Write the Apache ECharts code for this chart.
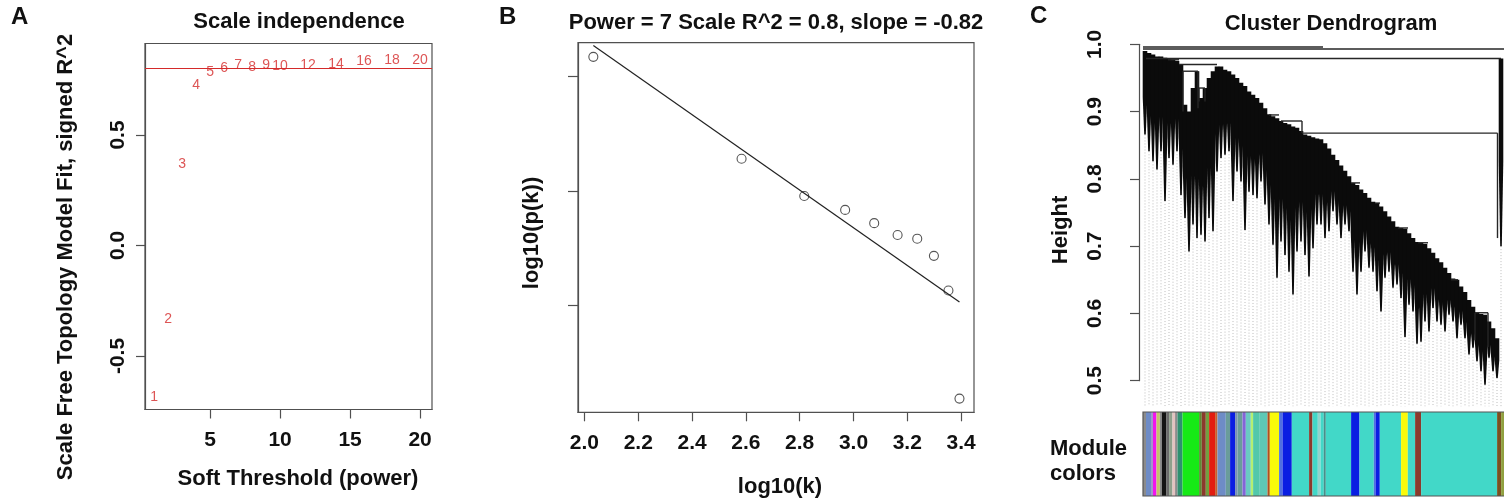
<!DOCTYPE html>
<html><head><meta charset="utf-8">
<script src="https://cdn.jsdelivr.net/npm/echarts@6/dist/echarts.min.js"></script>
<style>html,body{margin:0;padding:0;background:#fff}#c{width:1504px;height:502px}</style>
</head><body><div id="c"></div>
<script>
// ---------- Panel A: scale independence ----------
const powers = [1,2,3,4,5,6,7,8,9,10,12,14,16,18,20];
const signedR2 = [-0.688,-0.335,0.367,0.724,0.784,0.804,0.814,0.807,0.817,0.811,0.817,0.822,0.834,0.837,0.837];
const r2Cutoff = 0.8;
const aXTicks = [5,10,15,20];
const aYTicks = [-0.5,0,0.5];

// ---------- Panel B: scale-free fit ----------
const logK  = [2.033,2.584,2.817,2.969,3.077,3.164,3.237,3.299,3.353,3.394];
const logPk = [-0.913,-1.359,-1.522,-1.583,-1.641,-1.693,-1.709,-1.784,-1.936,-2.409];
const bXTicks = [2.0,2.2,2.4,2.6,2.8,3.0,3.2,3.4];
const bYTicks = [-2.0,-1.5,-1.0];

// ---------- Panel C: cluster dendrogram ----------
// per leaf-group (left to right): height where the branch mass starts, and leaf (lowest) height
const branchTop = [0.990,0.987,0.985,0.982,0.982,0.980,0.979,0.977,0.975,0.970,
  0.910,0.900,0.935,0.960,0.920,0.935,0.950,0.960,0.967,0.967,
  0.962,0.960,0.955,0.950,0.943,0.938,0.930,0.925,0.920,0.913,
  0.905,0.896,0.893,0.890,0.886,0.883,0.881,0.878,0.876,0.871,
  0.866,0.864,0.862,0.860,0.859,0.853,0.845,0.836,0.828,0.820,
  0.812,0.804,0.794,0.791,0.784,0.779,0.772,0.766,0.764,0.759,
  0.752,0.744,0.737,0.729,0.727,0.726,0.719,0.712,0.706,0.705,
  0.703,0.697,0.690,0.682,0.676,0.668,0.660,0.652,0.650,0.640,
  0.632,0.620,0.610,0.601,0.599,0.598,0.588,0.578,0.563,0.979];
const leafHeight = [0.866,0.841,0.826,0.814,0.841,0.767,0.831,0.821,0.841,0.776,
  0.742,0.692,0.732,0.712,0.717,0.707,0.742,0.722,0.811,0.831,
  0.836,0.841,0.767,0.811,0.796,0.724,0.781,0.776,0.771,0.796,
  0.762,0.732,0.702,0.653,0.707,0.687,0.662,0.628,0.692,0.707,
  0.687,0.655,0.697,0.732,0.732,0.712,0.722,0.752,0.732,0.712,
  0.732,0.722,0.662,0.628,0.662,0.692,0.668,0.662,0.633,0.603,
  0.653,0.662,0.638,0.643,0.623,0.565,0.613,0.603,0.555,0.558,
  0.588,0.573,0.608,0.588,0.583,0.573,0.598,0.588,0.563,0.583,
  0.563,0.539,0.549,0.529,0.514,0.494,0.534,0.514,0.504,0.700];
const leafGroupSize = 4;   // leaf units per group
// merge lines: [leaf1, height1, leaf2, height2]
const mergeLines = [
  [0,0.993,366,0.993],[0,0.996,180,0.996],[3,0.979,358,0.979],
  [159,0.868,354.5,0.868],[354.5,0.868,354.5,0.712],
  [138,0.886,159,0.886],[159,0.886,159,0.868],[126,0.895,136,0.895],
  [25,0.977,36,0.977],[36,0.970,74,0.970],[40,0.960,55,0.960],
  [40,0.960,40,0.900],[55,0.960,55,0.905],[56,0.935,62,0.935],
  [56,0.935,56,0.915],[62,0.935,62,0.915],
  [208,0.794,217,0.794],[232,0.764,237,0.764],[255,0.727,265,0.727],
  [275,0.705,285,0.705],[308,0.650,315,0.650],[332,0.601,345,0.601],
  [332,0.601,332,0.560],[345,0.601,345,0.550]
];
const guideFloor = 0.462;

// module colour bar (left to right)
const moduleColors = ['grey','steelblue','lavender','magenta','tan','grey','black','darkgrey','darkseagreen','pink',
  'grey','seagreen','green','darkolivegreen','brown','olivedrab','red','darkorange','steelblue','cadetblue',
  'blue','lightsteelblue','cadetblue','mediumpurple','mediumturquoise','greenyellow','mediumaquamarine','aquamarine','sienna','yellow',
  'royalblue','blue','turquoise','brown','turquoise','paleturquoise','turquoise','darkslategray','turquoise','blue',
  'turquoise','royalblue','blue','turquoise','yellow','turquoise','brown','turquoise','saddlebrown','yellowgreen'];
const moduleSizes = [3,5,2,3.5,3.3,2,4.7,2.6,3.4,2.6,
  2.4,5,16.6,2.7,4,3.3,6,2.4,8.3,4.3,
  5,2.4,5,3.3,5,2.3,6.7,7.7,2.3,9.3,
  3.4,9.3,17.3,3.4,5.3,2.7,3.3,2,25.3,8.4,
  14.3,1.7,4.3,21.3,6.7,7.3,6,76,4,6];

// ---------- styles ----------
const palette = {grey:'#8c8c8c',steelblue:'#6e8cc6',lavender:'#a496cc',magenta:'#f214ee',tan:'#c2c46c',
  black:'#141414',darkgrey:'#6c6c6c',darkseagreen:'#8fa08c',pink:'#e4c2c0',seagreen:'#2e9070',green:'#16ea16',
  darkolivegreen:'#5d8a34',brown:'#8b3a2c',olivedrab:'#72a040',red:'#e21c10',darkorange:'#c8602e',cadetblue:'#6a9c9a',
  blue:'#0a1ee2',lightsteelblue:'#7890b4',mediumpurple:'#8464d8',mediumturquoise:'#6acac2',greenyellow:'#b4f070',
  mediumaquamarine:'#52c8aa',aquamarine:'#5ec8b6',sienna:'#b05020',yellow:'#fafa0a',royalblue:'#5070e0',
  turquoise:'#42d8c8',paleturquoise:'#94d4cc',darkslategray:'#4a8e8a',saddlebrown:'#7a5020',yellowgreen:'#90a040'};
const FF = '"Liberation Sans", Arial, sans-serif';
const INK = '#111';
const AX = '#505050';
const RED = '#d42a2a';
const tickLbl = {fontSize:21, fontWeight:'bold', fontFamily:FF, color:INK};
const axLine = {show:true, onZero:false, lineStyle:{color:AX, width:1.2}};

function lsFit(xs, ys){
  const n = xs.length;
  const mx = xs.reduce((a,b)=>a+b,0)/n, my = ys.reduce((a,b)=>a+b,0)/n;
  let sxy=0, sxx=0;
  for (let i=0;i<n;i++){ sxy += (xs[i]-mx)*(ys[i]-my); sxx += (xs[i]-mx)*(xs[i]-mx); }
  const slope = sxy/sxx;
  return {slope, intercept: my - slope*mx};
}
const fit = lsFit(logK, logPk);
const xLo = Math.min(...logK), xHi = Math.max(...logK);
const fitLine = [[xLo, fit.intercept + fit.slope*xLo],[xHi, fit.intercept + fit.slope*xHi]];

const groups = branchTop.map((t,i)=>[leafGroupSize*i + leafGroupSize/2, t, leafHeight[i]]);
let acc = 0;
const moduleData = moduleSizes.map((s,i)=>{ const d=[acc, acc+s, i]; acc += s; return d; });
const totalLeaves = acc;

function label(text, x, y, rotated){
  return {type:'text', x:x, y:y, rotation: rotated ? Math.PI/2 : 0,
    style:{text:text, font:'bold 22px '+FF, fill:INK, align:'center', verticalAlign:'middle', textAlign:'center', textVerticalAlign:'middle'}};
}

const chart = echarts.init(document.getElementById('c'), null, {renderer:'canvas'});
const option = {
  animation:false,
  backgroundColor:'#fff',
  title:[
    {text:'Scale independence', left:294, top:6, textAlign:'center', textStyle:{fontSize:22,fontWeight:'bold',fontFamily:FF,color:INK}},
    {text:'Power = 7 Scale R^2 = 0.8, slope = -0.82', left:771, top:7, textAlign:'center', textStyle:{fontSize:22,fontWeight:'bold',fontFamily:FF,color:INK}},
    {text:'Cluster Dendrogram', left:1326, top:8, textAlign:'center', textStyle:{fontSize:22,fontWeight:'bold',fontFamily:FF,color:INK}}
  ],
  grid:[
    {left:145, top:43.5, width:287, height:366, show:true, borderColor:AX, borderWidth:1.2, backgroundColor:'transparent', containLabel:false, outerBoundsMode:'none'},
    {left:578, top:42.7, width:396, height:369.6, show:true, borderColor:AX, borderWidth:1.2, backgroundColor:'transparent', containLabel:false, outerBoundsMode:'none'},
    {left:1143, top:44.3, width:361, height:336.4, show:false, containLabel:false, outerBoundsMode:'none'},
    {left:1143, top:412, width:361, height:84, show:false, containLabel:false, outerBoundsMode:'none'}
  ],
  xAxis:[
    {gridIndex:0, type:'value', min:0.35, max:20.85, splitLine:{show:false}, axisLine:axLine,
     axisTick:{show:true, customValues:aXTicks, length:9, lineStyle:{color:AX,width:1.2}},
     axisLabel:Object.assign({customValues:aXTicks, margin:20}, tickLbl)},
    {gridIndex:1, type:'value', min:1.976, max:3.448, splitLine:{show:false}, axisLine:axLine,
     axisTick:{show:true, customValues:bXTicks, length:9, lineStyle:{color:AX,width:1.2}},
     axisLabel:Object.assign({customValues:bXTicks, margin:20, formatter:v=>v.toFixed(1)}, tickLbl)},
    {gridIndex:2, type:'value', min:0, max:361, show:false, axisLine:{onZero:false}},
    {gridIndex:3, type:'value', min:0, max:361, show:false, axisLine:{onZero:false}}
  ],
  yAxis:[
    {gridIndex:0, type:'value', min:-0.742, max:0.914, splitLine:{show:false}, axisLine:axLine,
     axisTick:{show:true, customValues:aYTicks, length:9, lineStyle:{color:AX,width:1.2}},
     axisLabel:Object.assign({customValues:aYTicks, rotate:90, margin:16, formatter:v=>v.toFixed(1)}, tickLbl)},
    {gridIndex:1, type:'value', min:-2.469, max:-0.851, splitLine:{show:false}, axisLine:axLine,
     axisTick:{show:true, customValues:bYTicks, length:10, lineStyle:{color:AX,width:1.2}},
     axisLabel:{show:false}},
    {gridIndex:2, type:'value', min:0.5, max:1.0, interval:0.1, offset:4, splitLine:{show:false},
     axisLine:axLine,
     axisTick:{show:true, length:9, lineStyle:{color:AX,width:1.2}},
     axisLabel:Object.assign({rotate:90, margin:33, formatter:v=>v.toFixed(1)}, tickLbl)},
    {gridIndex:3, type:'value', min:0, max:1, show:false, axisLine:{onZero:false}}
  ],
  graphic:[
    {type:'text', left:11, top:5, style:{text:'A', font:'bold 24px '+FF, fill:INK}},
    {type:'text', left:499, top:5, style:{text:'B', font:'bold 24px '+FF, fill:INK}},
    {type:'text', left:1030, top:4, style:{text:'C', font:'bold 24px '+FF, fill:INK}},
    label('Scale Free Topology Model Fit, signed R^2', 66, 257, true),
    label('Soft Threshold (power)', 298, 479, false),
    label('log10(p(k))', 532, 233, true),
    label('log10(k)', 780, 487, false),
    label('Height', 1061, 230, true),
    {type:'text', left:1050, top:436, style:{text:'Module\ncolors', font:'bold 22px '+FF, fill:INK, lineHeight:25.5}}
  ],
  series:[
    {type:'scatter', xAxisIndex:0, yAxisIndex:0, symbolSize:1, itemStyle:{color:'rgba(0,0,0,0)'},
     data:powers.map((p,i)=>[p, signedR2[i]]),
     label:{show:true, position:'inside', formatter:p=>String(p.value[0]), color:RED, fontSize:14, fontFamily:FF},
     markLine:{silent:true, symbol:['none','none'], label:{show:false}, lineStyle:{color:RED, width:1.1, type:'solid'},
       data:[{yAxis:r2Cutoff}]}},
    {type:'scatter', xAxisIndex:1, yAxisIndex:1, symbol:'circle', symbolSize:9,
     itemStyle:{color:'rgba(0,0,0,0)', borderColor:'#2a2a2a', borderWidth:1.1},
     data:logK.map((x,i)=>[x, logPk[i]])},
    {type:'line', xAxisIndex:1, yAxisIndex:1, showSymbol:false, symbol:'none', lineStyle:{color:'#222', width:1.2}, data:fitLine},
    // guides
    {type:'custom', xAxisIndex:2, yAxisIndex:2, clip:false, z:1, data:groups,
     renderItem:(params, api)=>{
       const u=api.value(0), b=api.value(2);
       const p1=api.coord([u,b]), p2=api.coord([u,guideFloor]);
       return {type:'line', shape:{x1:p1[0],y1:p1[1],x2:p2[0],y2:p2[1]}, style:{stroke:'#bdbdbd', lineWidth:1, lineDash:[1,2]}};
     }},
    // branch masses: solid upper part, tapering spike toward the leaf height
    {type:'custom', xAxisIndex:2, yAxisIndex:2, clip:false, z:3, data:groups,
     renderItem:(params, api)=>{
       const u=api.value(0), t=api.value(1), b=api.value(2);
       const h=leafGroupSize/2 + 0.3;
       const m = b + (t-b)*0.45;
       const pts=[api.coord([u-h,t]), api.coord([u+h,t]), api.coord([u+h,m]), api.coord([u+0.8,b]), api.coord([u-0.8,b]), api.coord([u-h,m])];
       return {type:'polygon', shape:{points:pts}, style:{fill:'#0b0b0b'}};
     }},
    // merge lines
    {type:'custom', xAxisIndex:2, yAxisIndex:2, clip:false, z:4, data:mergeLines,
     renderItem:(params, api)=>{
       const p1=api.coord([api.value(0),api.value(1)]), p2=api.coord([api.value(2),api.value(3)]);
       return {type:'line', shape:{x1:p1[0],y1:p1[1],x2:p2[0],y2:p2[1]}, style:{stroke:'#262626', lineWidth:1.4}};
     }},
    // module colours
    {type:'custom', xAxisIndex:3, yAxisIndex:3, clip:false, z:2, data:moduleData,
     renderItem:(params, api)=>{
       const a=api.coord([api.value(0),1]), b=api.coord([api.value(1),0]);
       const name=moduleColors[api.value(2)];
       return {type:'rect', shape:{x:a[0],y:a[1],width:b[0]-a[0],height:b[1]-a[1]}, style:{fill:palette[name]}};
     }},
    {type:'custom', xAxisIndex:3, yAxisIndex:3, clip:false, z:3, data:[[0,totalLeaves]],
     renderItem:(params, api)=>{
       const a=api.coord([api.value(0),1]), b=api.coord([api.value(1),0]);
       return {type:'rect', shape:{x:a[0],y:a[1],width:b[0]-a[0],height:b[1]-a[1]}, style:{fill:'none', stroke:'#555', lineWidth:1.2}};
     }}
  ]
};
chart.setOption(option);
</script>
</body></html>
